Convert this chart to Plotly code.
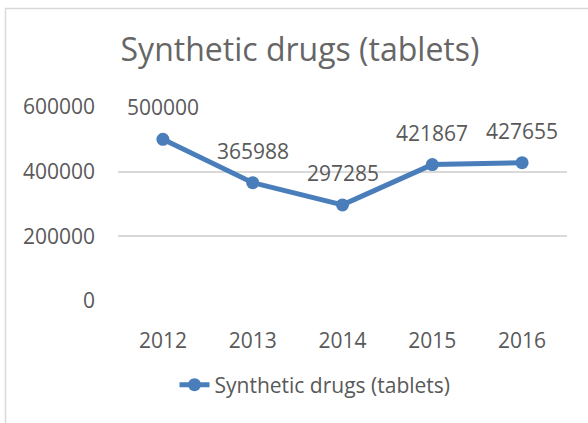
import plotly.graph_objects as go

years = [2012, 2013, 2014, 2015, 2016]
values = [500000, 365988, 297285, 421867, 427655]
series_name = "Synthetic drugs (tablets)"
title_text = "Synthetic drugs (tablets)"
y_ticks = [0, 200000, 400000, 600000]

BLUE = "#4A7EBB"
GRAY = "#595959"
FONT = "Open Sans"

W, H = 588, 423
ML, MR, MT, MB = 118, 21, 107, 122
pw, ph = W - ML - MR, H - MT - MB

fig = go.Figure()
fig.add_trace(go.Scatter(
    x=years, y=values, name=series_name, mode="lines+markers",
    line=dict(color=BLUE, width=5),
    marker=dict(color=BLUE, size=13),
))

for x, v in zip(years, values):
    fig.add_annotation(x=x, y=v, text=str(v), showarrow=False,
                       yanchor="middle", yshift=32,
                       font=dict(family=FONT, size=21, color=GRAY))

# chart border (top and left edges visible)
def px_x(p):
    return (p - ML) / pw
def px_y(p):
    return (H - MB - p) / ph

border = "#D9D9D9"
fig.add_shape(type="line", xref="paper", yref="paper",
              x0=px_x(5), x1=px_x(W + 5), y0=px_y(8.5), y1=px_y(8.5),
              line=dict(color=border, width=1.5))
fig.add_shape(type="line", xref="paper", yref="paper",
              x0=px_x(5.5), x1=px_x(5.5), y0=px_y(8), y1=px_y(H + 5),
              line=dict(color=border, width=1.5))

fig.update_layout(
    width=W, height=H,
    margin=dict(l=ML, r=MR, t=MT, b=MB),
    paper_bgcolor="white", plot_bgcolor="white",
    title=dict(text=title_text, x=300 / W, xanchor="center",
               y=1 - 50 / H, yanchor="middle",
               font=dict(family=FONT, size=32, color="#666666")),
    font=dict(family=FONT, size=21, color=GRAY),
    showlegend=True,
    legend=dict(orientation="h", x=px_x(315), xanchor="center",
                y=px_y(385), yanchor="middle",
                font=dict(family=FONT, size=21, color=GRAY),
                bgcolor="rgba(0,0,0,0)"),
    xaxis=dict(range=[years[0] - 0.5, years[-1] + 0.5],
               tickvals=years, ticktext=[str(y) for y in years],
               showgrid=False, showline=False, zeroline=False,
               ticks="", ticklabelstandoff=25,
               tickfont=dict(family=FONT, size=21, color=GRAY)),
    yaxis=dict(range=[0, 600000], tickvals=y_ticks,
               ticktext=[str(t) for t in y_ticks],
               showgrid=True, gridcolor="#D9D9D9", gridwidth=1.5,
               zeroline=False, showline=False, ticks="",
               ticklabelstandoff=22,
               tickfont=dict(family=FONT, size=21, color=GRAY)),
)

fig.write_html("out.html",
               config={"displayModeBar": False},
               post_script="document.body.style.margin='0';document.body.style.overflow='hidden';")
